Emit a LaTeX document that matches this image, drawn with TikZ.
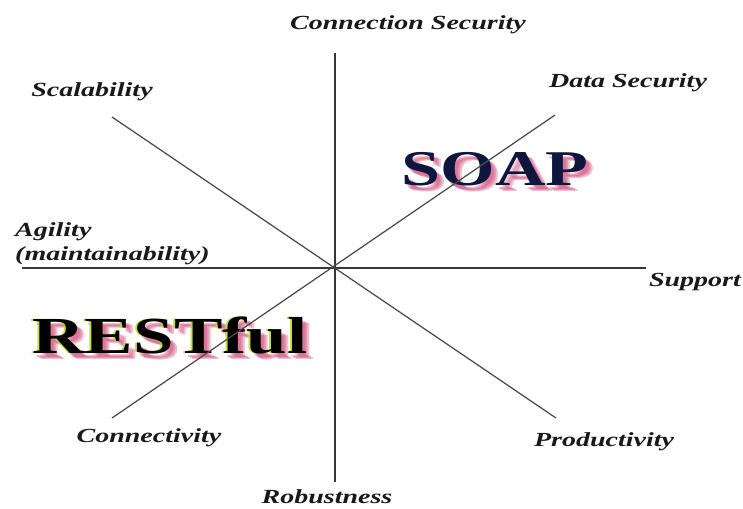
\documentclass[tikz,border=0pt]{standalone}
\usepackage{fontspec}
\newfontfamily\lblfont[FakeStretch=1.4]{Liberation Serif}
\definecolor{axisgray}{RGB}{55,55,55}
\definecolor{diaggray}{RGB}{75,75,75}
\definecolor{shadowpink}{RGB}{200,45,100}
\definecolor{limegreen}{RGB}{190,220,30}
\definecolor{soapnavy}{RGB}{15,22,62}
\tikzset{
  axisline/.style={draw=axisgray, line width=1.7pt},
  hline/.style={draw=axisgray, line width=1.4pt},
  diagline/.style={draw=diaggray, line width=1.25pt},
  lbl/.style={font=\lblfont\bfseries\itshape\fontsize{20}{24}\selectfont, text=black!90, inner sep=0pt},
  soapword/.style={font=\lblfont\bfseries\fontsize{50}{60}\selectfont, inner sep=0pt, anchor=base},
  restword/.style={font=\lblfont\bfseries\fontsize{52}{60}\selectfont, inner sep=0pt, anchor=base},
  pinkshadow/.style={text=shadowpink, opacity=0.3},
}
\begin{document}
\begin{tikzpicture}[x=1pt,y=-1pt]
\useasboundingbox (0,0) rectangle (743,508);
% big words with soft shadows
\foreach \dx/\dy/\k in {3/4/a,5/5/b,7/6/c}{
  \node[soapword, pinkshadow] (soapsh\k) at (495+\dx,185+\dy) {SOAP};
  \node[restword, pinkshadow] (restsh\k) at (170+\dx,353+\dy) {RESTful};
}
\node[restword, text=limegreen, opacity=0.85] (restglow) at (168,353) {RESTful};
\node[soapword, text=soapnavy] (soap) at (495,185) {SOAP};
\node[restword, text=black] (rest) at (170,353) {RESTful};
% axes
\coordinate (c) at (335,268);
\coordinate (n) at (335,53);
\coordinate (s) at (335,482);
\coordinate (w) at (22,268);
\coordinate (e) at (646,268);
\coordinate (nw) at (112,117);
\coordinate (se) at (556,418);
\coordinate (ne) at (555,115);
\coordinate (sw) at (112,418);
\draw[axisline] (n) -- (s);
\draw[hline] (w) -- (e);
\draw[diagline] (nw) -- (se);
\draw[diagline] (ne) -- (sw);
% labels
\node[lbl, anchor=base] (conn) at (408,30) {Connection Security};
\node[lbl, anchor=base] (data) at (628,88) {Data Security};
\node[lbl, anchor=base] (scal) at (92,97) {Scalability};
\node[lbl, anchor=north west, align=left] (agil) at (15,222) {Agility\\(maintainability)};
\node[lbl, anchor=base] (supp) at (695,286) {Support};
\node[lbl, anchor=base] (cnty) at (149,442) {Connectivity};
\node[lbl, anchor=base] (prod) at (604,446) {Productivity};
\node[lbl, anchor=base] (robu) at (327,503) {Robustness};
\end{tikzpicture}
\end{document}
